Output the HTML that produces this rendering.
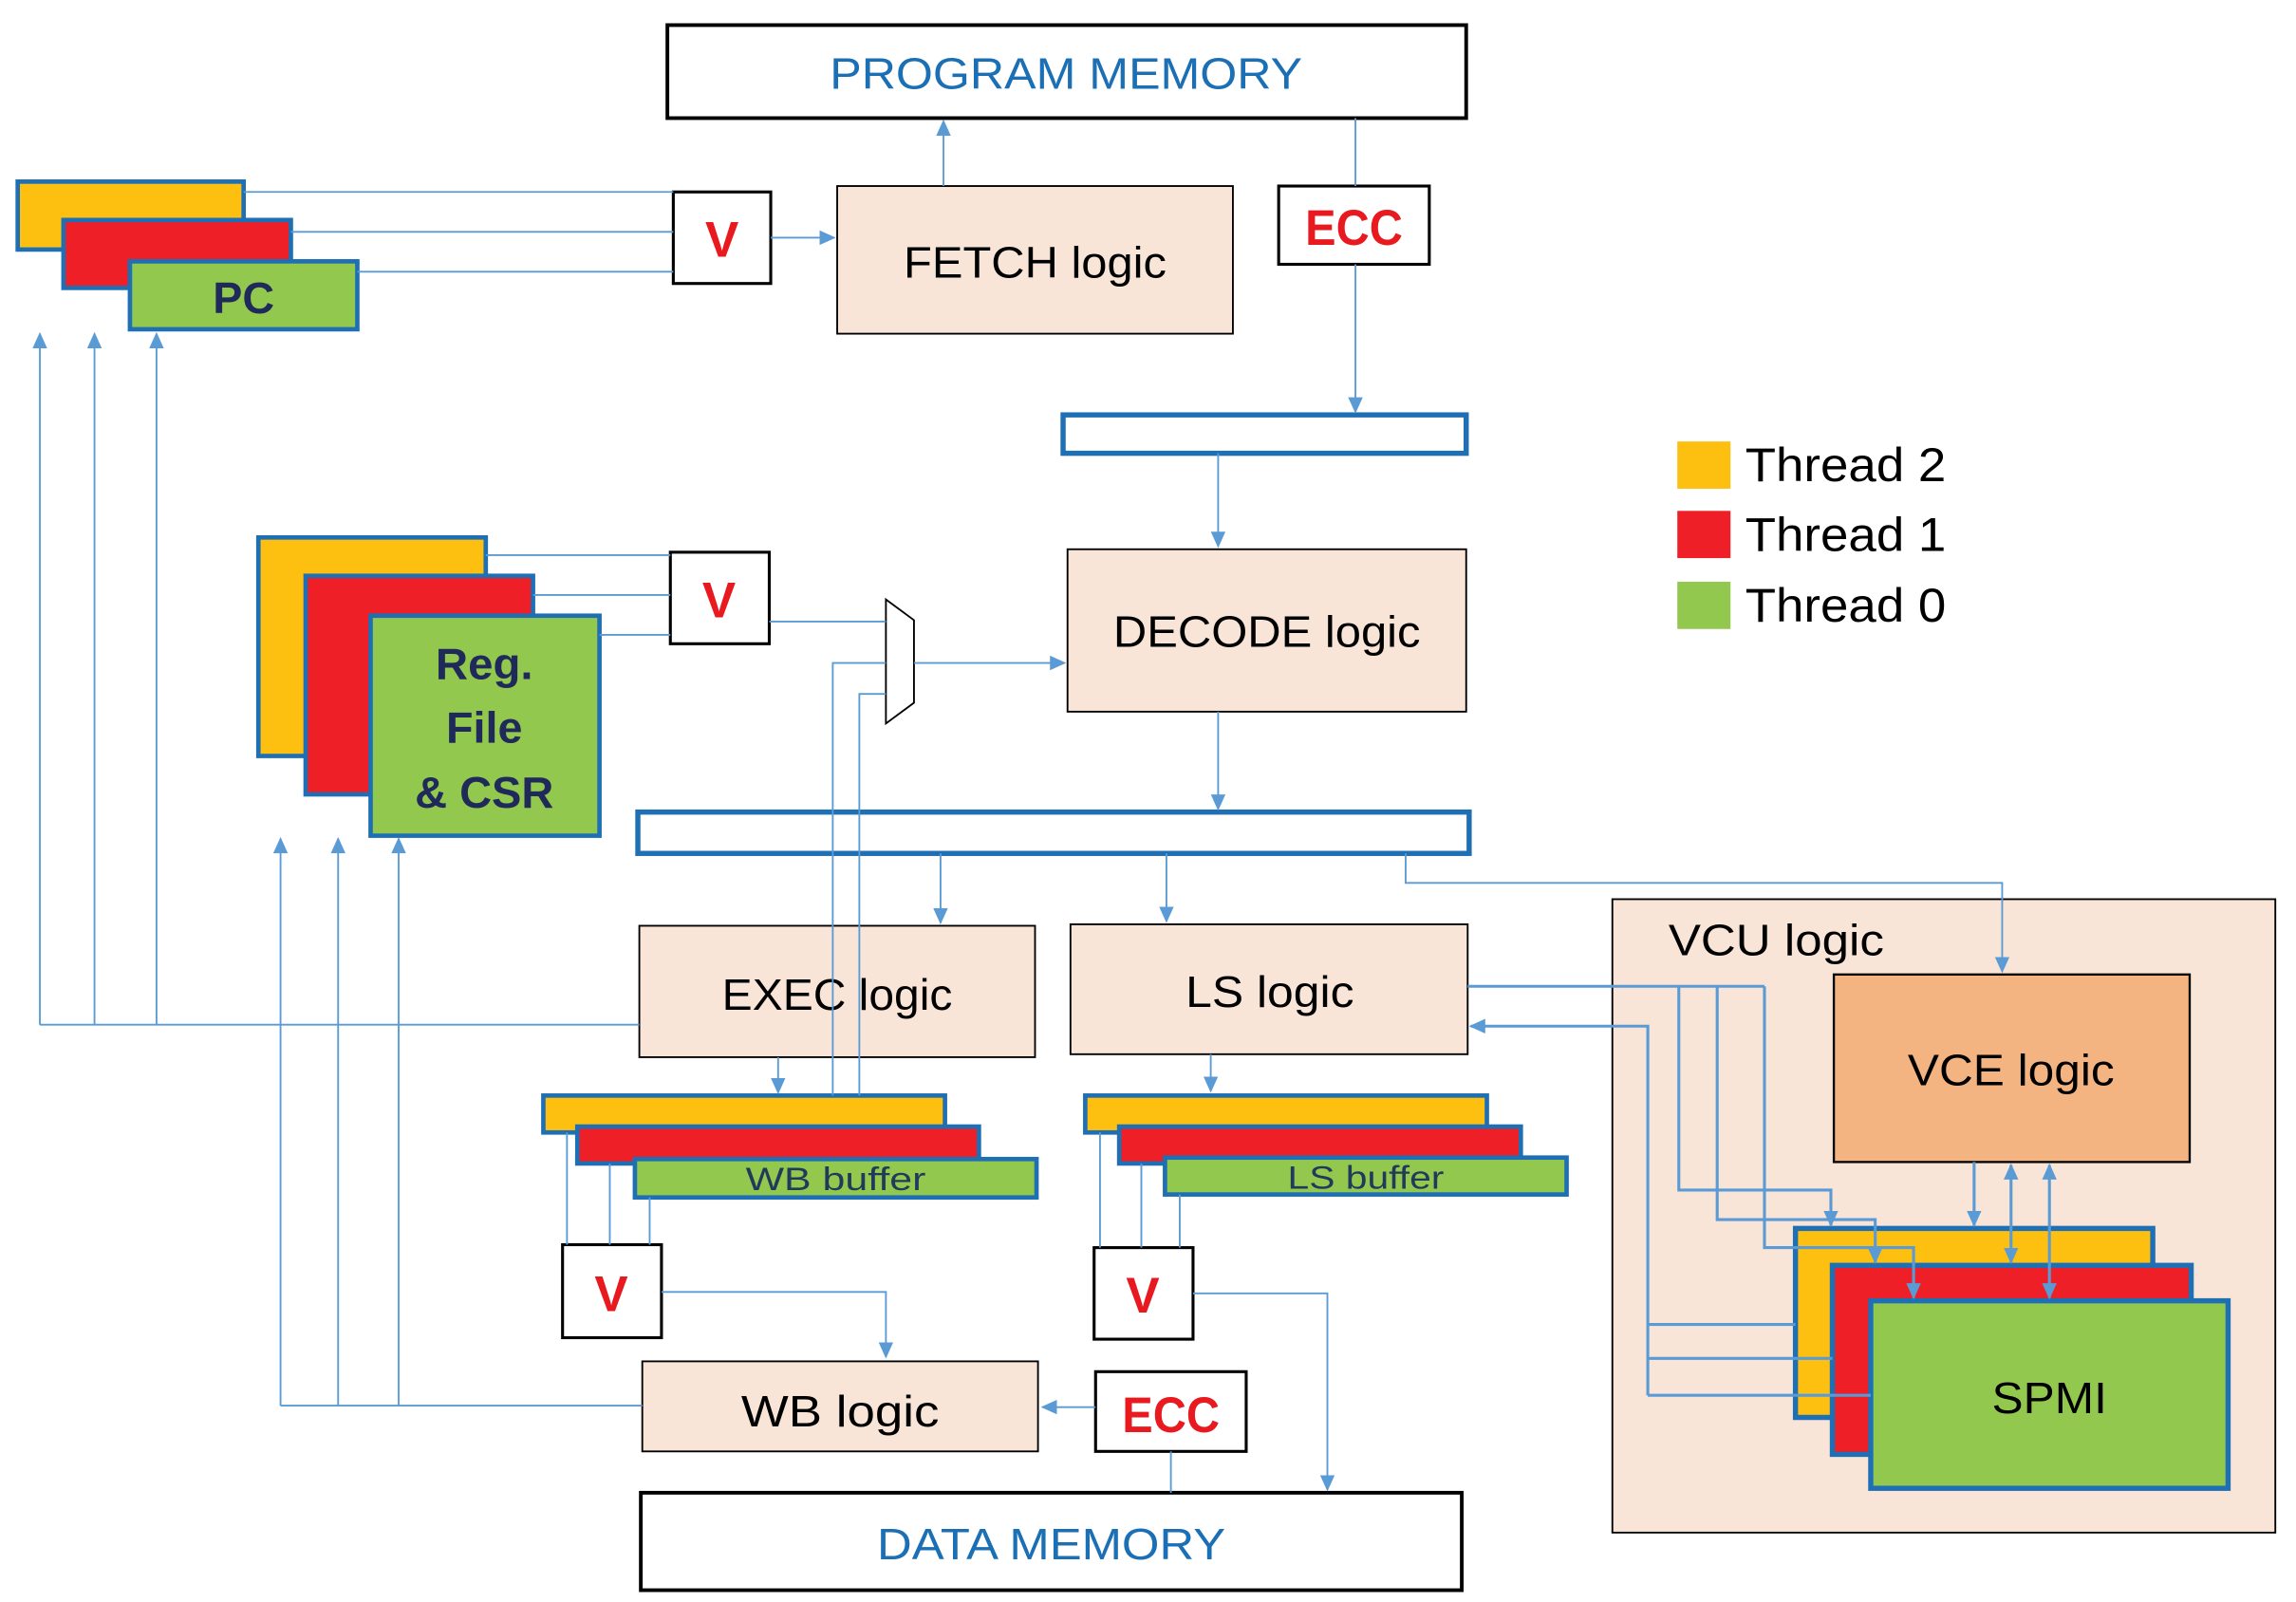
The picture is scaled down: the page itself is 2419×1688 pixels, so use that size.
<!DOCTYPE html>
<html><head><meta charset="utf-8"><style>html,body{margin:0;padding:0;background:#fff}svg{display:block}</style></head>
<body>
<svg width="2419" height="1688" viewBox="0 0 1555 1085" preserveAspectRatio="none" xmlns="http://www.w3.org/2000/svg" font-family="Liberation Sans, sans-serif">
<defs>
<marker id="a" viewBox="0 0 10 10" refX="9" refY="5" markerWidth="11" markerHeight="11" markerUnits="userSpaceOnUse" orient="auto-start-reverse"><path d="M0,0.5L10,5L0,9.5z" fill="#5b9bd5"/></marker>
</defs>
<rect width="1555" height="1085" fill="#fff"/>
<!-- VCU -->
<rect x="1092" y="609" width="449" height="429" fill="#f9e5d7" stroke="#000" stroke-width="1.2"/>
<text x="1130" y="647" font-size="30" textLength="146" lengthAdjust="spacingAndGlyphs">VCU logic</text>
<rect x="1242" y="660" width="241" height="127" fill="#f4b482" stroke="#000" stroke-width="1.5"/>
<text x="1362" y="735" font-size="30" text-anchor="middle" textLength="140" lengthAdjust="spacingAndGlyphs">VCE logic</text>
<g stroke="#1f6fb5" stroke-width="3.5">
<rect x="1216" y="832" width="242" height="128" fill="#fdbf10"/>
<rect x="1241" y="857" width="243" height="128" fill="#ee1f26"/>
<rect x="1267" y="881" width="242" height="127" fill="#93c84e"/>
</g>
<text x="1388" y="957" font-size="30" text-anchor="middle" textLength="78" lengthAdjust="spacingAndGlyphs">SPMI</text>

<!-- memories -->
<rect x="452" y="17" width="541" height="63" fill="#fff" stroke="#000" stroke-width="2.5"/>
<text x="722" y="60" font-size="30" fill="#1a6fb5" text-anchor="middle" textLength="320" lengthAdjust="spacingAndGlyphs">PROGRAM MEMORY</text>
<rect x="434" y="1011" width="556" height="66" fill="#fff" stroke="#000" stroke-width="2.5"/>
<text x="712" y="1056" font-size="30" fill="#1a6fb5" text-anchor="middle" textLength="236" lengthAdjust="spacingAndGlyphs">DATA MEMORY</text>

<!-- logic boxes -->
<g fill="#f9e5d7" stroke="#000" stroke-width="1.2">
<rect x="567" y="126" width="268" height="100"/>
<rect x="723" y="372" width="270" height="110"/>
<rect x="433" y="627" width="268" height="89"/>
<rect x="725" y="626" width="269" height="88"/>
<rect x="435" y="922" width="268" height="61"/>
</g>
<g font-size="30" text-anchor="middle" fill="#000">
<text x="701" y="188" textLength="178" lengthAdjust="spacingAndGlyphs">FETCH logic</text>
<text x="858" y="438" textLength="208" lengthAdjust="spacingAndGlyphs">DECODE logic</text>
<text x="567" y="684" textLength="156" lengthAdjust="spacingAndGlyphs">EXEC logic</text>
<text x="860" y="682" textLength="114" lengthAdjust="spacingAndGlyphs">LS logic</text>
<text x="569" y="966" textLength="134" lengthAdjust="spacingAndGlyphs">WB logic</text>
</g>

<!-- V and ECC boxes -->
<g fill="#fff" stroke="#000" stroke-width="2">
<rect x="456" y="130" width="66" height="62"/>
<rect x="454" y="374" width="67" height="62"/>
<rect x="381" y="843" width="67" height="63"/>
<rect x="741" y="845" width="67" height="62"/>
<rect x="866" y="126" width="102" height="53"/>
<rect x="742" y="929" width="102" height="54"/>
</g>
<g fill="#e8191f" font-weight="bold" text-anchor="middle" font-size="34">
<text x="489" y="174">V</text>
<text x="487" y="418">V</text>
<text x="414" y="888">V</text>
<text x="774" y="889">V</text>
<text x="917" y="166" textLength="66" lengthAdjust="spacingAndGlyphs">ECC</text>
<text x="793" y="970" textLength="66" lengthAdjust="spacingAndGlyphs">ECC</text>
</g>

<!-- pipeline registers -->
<g fill="#fff" stroke="#1f6fb5" stroke-width="3.5">
<rect x="720" y="281" width="273" height="26"/>
<rect x="432" y="550" width="563" height="28"/>
</g>

<!-- stacks -->
<g stroke="#1f6fb5" stroke-width="3">
<rect x="12" y="123" width="153" height="46" fill="#fdbf10"/>
<rect x="43" y="149" width="154" height="46" fill="#ee1f26"/>
<rect x="88" y="177" width="154" height="46" fill="#93c84e"/>
<rect x="175" y="364" width="154" height="148" fill="#fdbf10"/>
<rect x="207" y="390" width="154" height="148" fill="#ee1f26"/>
<rect x="251" y="417" width="155" height="149" fill="#93c84e"/>
<rect x="368" y="742" width="272" height="25" fill="#fdbf10"/>
<rect x="391" y="763" width="272" height="25" fill="#ee1f26"/>
<rect x="430" y="785" width="272" height="26" fill="#93c84e"/>
<rect x="735" y="742" width="272" height="25" fill="#fdbf10"/>
<rect x="758" y="763" width="272" height="25" fill="#ee1f26"/>
<rect x="789" y="784" width="272" height="25" fill="#93c84e"/>
</g>
<g fill="#1f2a5a" font-weight="bold" text-anchor="middle" font-size="30">
<text x="165" y="212">PC</text>
<text x="328" y="460" textLength="66" lengthAdjust="spacingAndGlyphs">Reg.</text>
<text x="328" y="503">File</text>
<text x="328" y="547" textLength="94" lengthAdjust="spacingAndGlyphs">&amp; CSR</text>
</g>
<g fill="#1f3a5a" font-size="22" text-anchor="middle">
<text x="566" y="806" textLength="122" lengthAdjust="spacingAndGlyphs">WB buffer</text>
<text x="925" y="805" textLength="106" lengthAdjust="spacingAndGlyphs">LS buffer</text>
</g>

<!-- mux -->
<path d="M600,406 L619,420 L619,476 L600,490 Z" fill="#fff" stroke="#000" stroke-width="1.2"/>

<!-- connectors -->
<g fill="none" stroke="#5b9bd5" stroke-width="1.2">
<path d="M639,126 V82" marker-end="url(#a)"/>
<path d="M918,80 V126"/>
<path d="M918,179 V279" marker-end="url(#a)"/>
<path d="M165,130 H456 M197,157 H456 M242,184 H456"/>
<path d="M522,161 H565" marker-end="url(#a)"/>
<path d="M27,694 V226" marker-end="url(#a)"/>
<path d="M64,694 V226" marker-end="url(#a)"/>
<path d="M106,694 V226" marker-end="url(#a)"/>
<path d="M27,694 H433"/>
<path d="M825,307 V370" marker-end="url(#a)"/>
<path d="M329,376 H454 M361,403 H454 M406,430 H454"/>
<path d="M521,421 H600"/>
<path d="M619,449 H721" marker-end="url(#a)"/>
<path d="M564,742 V449 H600 M582,742 V470 H600"/>
<path d="M825,482 V548" marker-end="url(#a)"/>
<path d="M952,578 V598 H1356 V658" marker-end="url(#a)"/>
<path d="M637,578 V625" marker-end="url(#a)"/>
<path d="M790,578 V624" marker-end="url(#a)"/>
<path d="M527,716 V740" marker-end="url(#a)"/>
<path d="M820,714 V739" marker-end="url(#a)"/>
<path d="M384,767 V843 M413,788 V843 M440,811 V843"/>
<path d="M745,767 V845 M773,788 V845 M799,809 V845"/>
<path d="M448,875 H600 V919" marker-end="url(#a)"/>
<path d="M808,876 H899 V1009" marker-end="url(#a)"/>
<path d="M742,953 H706" marker-end="url(#a)"/>
<path d="M793,983 V1011"/>
<path d="M190,952 H435"/>
<path d="M190,952 V568" marker-end="url(#a)"/>
<path d="M229,952 V568" marker-end="url(#a)"/>
<path d="M270,952 V568" marker-end="url(#a)"/>
</g>
<g fill="none" stroke="#5b9bd5" stroke-width="2">
<path d="M994,668 H1195"/>
<path d="M1137,668 V806 H1240 V830" marker-end="url(#a)"/>
<path d="M1163,668 V826 H1270 V855" marker-end="url(#a)"/>
<path d="M1195,668 V845 H1296 V879" marker-end="url(#a)"/>
<path d="M1116,945 V695 H996" marker-end="url(#a)"/>
<path d="M1116,897 H1216 M1116,920 H1241 M1116,945 H1267"/>
<path d="M1337,787 V830" marker-end="url(#a)"/>
<path d="M1362,789 V855" marker-start="url(#a)" marker-end="url(#a)"/>
<path d="M1388,789 V879" marker-start="url(#a)" marker-end="url(#a)"/>
</g>

<!-- legend -->
<rect x="1136" y="299" width="36" height="32" fill="#fdbf10"/>
<rect x="1136" y="346" width="36" height="32" fill="#ee1f26"/>
<rect x="1136" y="394" width="36" height="32" fill="#93c84e"/>
<g font-size="32" fill="#000">
<text x="1182" y="326" textLength="136" lengthAdjust="spacingAndGlyphs">Thread 2</text>
<text x="1182" y="373" textLength="136" lengthAdjust="spacingAndGlyphs">Thread 1</text>
<text x="1182" y="421" textLength="136" lengthAdjust="spacingAndGlyphs">Thread 0</text>
</g>
</svg>
</body></html>
